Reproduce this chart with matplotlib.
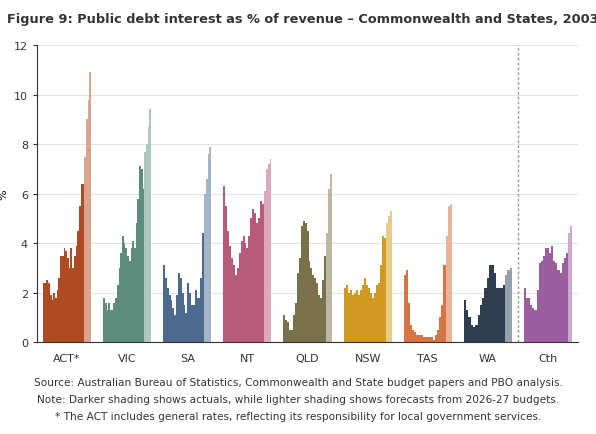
import matplotlib.pyplot as plt
import numpy as np

groups = ["ACT*", "VIC", "SA", "NT", "QLD", "NSW", "TAS", "WA", "Cth"]
actuals = {
 "ACT*": [2.4,2.4,2.5,2.4,1.9,1.7,2.0,1.8,2.1,2.6,3.5,3.5,3.8,3.7,3.4,3.0,3.8,3.0,3.5,3.9,4.5,5.5,6.4,6.4],
 "VIC": [1.8,1.6,1.3,1.6,1.3,1.3,1.6,1.8,2.3,3.0,3.6,4.3,4.0,3.8,3.5,3.3,3.8,4.1,3.8,4.8,5.8,7.1,7.0,6.2],
 "SA": [3.1,2.6,2.2,1.9,1.7,1.4,1.1,1.9,2.8,2.6,2.0,1.5,1.2,2.4,2.0,1.5,1.5,2.1,1.8,1.8,2.6,4.4],
 "NT": [6.3,5.5,4.5,3.9,3.4,3.1,2.7,3.0,3.6,4.1,4.3,4.0,3.8,4.3,5.0,5.4,5.2,4.8,5.0,5.7,5.6],
 "QLD": [1.1,0.9,0.8,0.5,0.5,1.1,1.6,2.8,3.4,4.7,4.9,4.8,4.5,3.3,3.0,2.7,2.6,2.4,1.9,1.8,2.5,3.5],
 "NSW": [2.2,2.3,2.0,2.1,1.9,2.0,2.1,1.9,2.1,2.3,2.6,2.3,2.2,2.0,1.8,2.0,2.3,2.4,3.1,4.3,4.2],
 "TAS": [2.7,2.9,1.6,0.7,0.5,0.4,0.3,0.3,0.3,0.2,0.2,0.2,0.2,0.2,0.1,0.3,0.5,1.0,1.5,3.1],
 "WA": [1.7,1.3,1.0,0.7,0.6,0.7,1.1,1.5,1.8,2.2,2.6,3.1,3.1,2.8,2.2,2.2,2.2,2.3],
 "Cth": [2.2,1.8,1.8,1.5,1.4,1.3,2.1,3.2,3.3,3.5,3.8,3.8,3.6,3.9,3.3,3.2,2.9,2.8,3.2,3.4,3.6],
}
forecasts = {
 "ACT*": [7.5,9.0,9.8,10.9],
 "VIC": [7.7,8.0,8.7,9.4],
 "SA": [6.0,6.6,7.6,7.9],
 "NT": [6.1,7.0,7.2,7.4],
 "QLD": [4.4,6.2,6.8],
 "NSW": [4.8,5.1,5.3],
 "TAS": [4.3,5.5,5.6],
 "WA": [2.7,2.9,3.0],
 "Cth": [4.4,4.7],
}
dark = {"ACT*":"#B04A22","VIC":"#5E8C7C","SA":"#4D6A8E","NT":"#B85A7A","QLD":"#78714A",
        "NSW":"#D09A20","TAS":"#D67444","WA":"#2E3E50","Cth":"#9B5FA0"}
light = {"ACT*":"#D9A58E","VIC":"#ADC6BE","SA":"#A5B5C8","NT":"#DCA9BC","QLD":"#BDB8A4",
         "NSW":"#E8CA8A","TAS":"#EAB29A","WA":"#979FA8","Cth":"#CBAACE"}

fig = plt.figure(figsize=(5.96,4.35), dpi=100)
ax = fig.add_axes([0.062,0.211,0.908,0.683])
slot = 1.0
span = 0.80
centers = []
for i,g in enumerate(groups):
    a, f = actuals[g], forecasts[g]
    n = len(a)+len(f)
    w = span/n
    start = i*slot + (slot-span)/2
    xa = start + w*(np.arange(len(a))+0.5)
    xf = start + w*(len(a)+np.arange(len(f))+0.5)
    ax.bar(xa, a, width=w*1.02, color=dark[g], linewidth=0)
    ax.bar(xf, f, width=w*1.02, color=light[g], linewidth=0)
    centers.append(i*slot + 0.5)
ax.axvline(8*slot, color="#999999", ls=(0,(2,1.5)), lw=1)
ax.set_xlim(0, 9*slot)
ax.set_ylim(0,12)
ax.set_yticks(range(0,13,2))
ax.set_xticks(centers)
ax.set_xticklabels(groups)
ax.tick_params(axis='x', length=0, labelsize=8, pad=8, colors="#333333")
ax.tick_params(axis='y', labelsize=8, colors="#333333", length=3)
ax.grid(axis='y', color="#e3e3e3", lw=0.8)
ax.set_axisbelow(True)
for s in ["top","right"]:
    ax.spines[s].set_visible(False)
ax.spines["left"].set_color("#333333")
ax.spines["bottom"].set_color("#333333")
ax.set_ylabel("%", fontsize=8, labelpad=4)
fig.text(0.012,0.955,"Figure 9: Public debt interest as % of revenue \u2013 Commonwealth and States, 2003-2030",
         fontsize=9.3, fontweight="bold", color="#333333", va="center")
fig.text(0.5,0.112,"Source: Australian Bureau of Statistics, Commonwealth and State budget papers and PBO analysis.",
         ha="center", fontsize=7.6, color="#333333")
fig.text(0.5,0.073,"Note: Darker shading shows actuals, while lighter shading shows forecasts from 2026-27 budgets.",
         ha="center", fontsize=7.6, color="#333333")
fig.text(0.5,0.034,"* The ACT includes general rates, reflecting its responsibility for local government services.",
         ha="center", fontsize=7.6, color="#333333")
fig.savefig("out.png", dpi=100)
